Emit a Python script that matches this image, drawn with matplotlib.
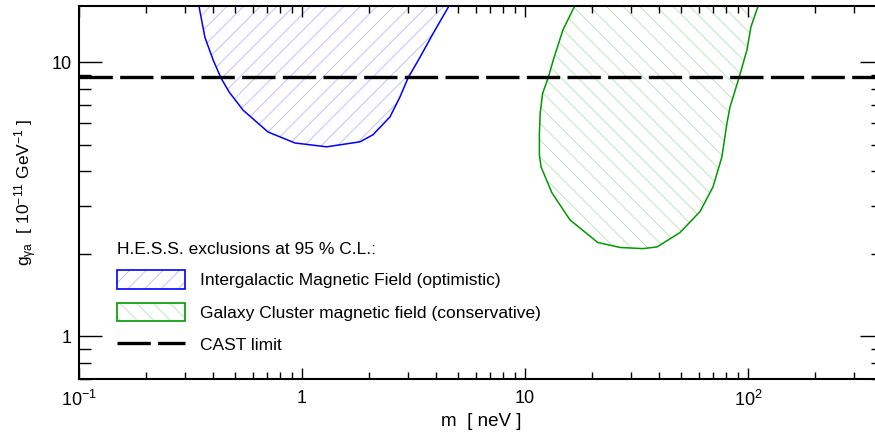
import numpy as np
import matplotlib
matplotlib.use("Agg")
import matplotlib.pyplot as plt
from matplotlib.patches import Patch
from matplotlib.lines import Line2D
from matplotlib.ticker import LogLocator, FixedLocator, FixedFormatter, NullFormatter

plt.rcParams['font.family'] = ['Liberation Sans', 'DejaVu Sans']
plt.rcParams['mathtext.default'] = 'regular'
plt.rcParams['hatch.linewidth'] = 0.6

# H.E.S.S. exclusion contours, m [neV] vs g [1e-11 GeV^-1]
igmf_m = [0.345, 0.367, 0.399, 0.433, 0.471, 0.544, 0.704, 0.930, 1.29, 1.82,
          2.08, 2.48, 2.75, 2.99, 3.38, 3.87, 4.56]
igmf_g = [16.0, 12.3, 10.2, 8.75, 7.78, 6.68, 5.56, 5.07, 4.91, 5.12,
          5.43, 6.31, 7.46, 8.75, 10.4, 12.7, 16.0]

gc_m = [16.7, 14.8, 13.4, 12.7, 12.0, 11.7, 11.6, 11.6, 11.8, 13.2, 15.9, 21.2,
        26.7, 33.8, 39.1, 49.5, 60.9, 69.7, 76.4, 80.5, 83.0, 91.1, 99, 103, 111]
gc_g = [16.0, 13.1, 10.2, 8.75, 7.7, 6.53, 5.52, 4.59, 4.15, 3.34, 2.66, 2.20,
        2.11, 2.09, 2.12, 2.39, 2.85, 3.51, 4.52, 6.0, 6.85, 8.75, 11.1, 13.4, 16.0]

cast_g = 8.8

xticks = [0.1, 1, 10, 100]
xticklabels = ['$10^{-1}$', '1', '10', '$10^{2}$']
yticks = [1, 10]
yticklabels = ['1', '10']

blue = '#0000ff'
blue_hatch = '#b8b8ff'
green = '#009900'
green_hatch = '#b4e2b4'

fig = plt.figure(figsize=(8.75, 4.4), dpi=100)
ax = fig.add_axes([79/875, 61/440, (883-79)/875, (379-6)/440])
ax.set_xscale('log')
ax.set_yscale('log')

ax.fill(igmf_m, igmf_g, facecolor='none', edgecolor=blue_hatch, hatch='//', lw=0)
ax.plot(igmf_m, igmf_g, color=blue, lw=1.1)
ax.fill(gc_m, gc_g, facecolor='none', edgecolor=green_hatch, hatch='\\\\', lw=0)
ax.plot(gc_m, gc_g, color=green, lw=1.1)
dash = (10, 2.2)
ax.axhline(cast_g, color='black', lw=2.4, dashes=dash)

ax.set_xlim(0.1, 403)
ax.set_ylim(0.70, 16.0)

ax.xaxis.set_major_locator(FixedLocator(xticks))
ax.xaxis.set_major_formatter(FixedFormatter(xticklabels))
ax.xaxis.set_minor_locator(LogLocator(base=10, subs=np.arange(2, 10)))
ax.xaxis.set_minor_formatter(NullFormatter())
ax.yaxis.set_major_locator(FixedLocator(yticks))
ax.yaxis.set_major_formatter(FixedFormatter(yticklabels))
ax.yaxis.set_minor_locator(LogLocator(base=10, subs=np.arange(2, 10)))
ax.yaxis.set_minor_formatter(NullFormatter())

ax.tick_params(which='both', direction='in', top=True, right=True, width=1.0, labelsize=13)
ax.tick_params(axis='x', which='major', length=8, pad=8)
ax.tick_params(axis='x', which='minor', length=5)
ax.tick_params(axis='y', which='major', length=16.5, pad=5)
ax.tick_params(axis='y', which='minor', length=8.6)
for s in ax.spines.values():
    s.set_linewidth(1.5)

ax.set_xlabel('m  [ neV ]', fontsize=13.5)
ax.set_ylabel('g$_{γa}$  [ 10$^{-11}$ GeV$^{-1}$ ]', fontsize=12.5)
ax.xaxis.set_label_coords(0.5, -0.09)
ax.yaxis.set_label_coords(-0.05, 0.5)

handles = [
    (Patch(facecolor='none', edgecolor=blue_hatch, hatch='//', lw=0),
     Patch(facecolor='none', edgecolor=blue, lw=1.2)),
    (Patch(facecolor='none', edgecolor=green_hatch, hatch='\\\\', lw=0),
     Patch(facecolor='none', edgecolor=green, lw=1.2)),
    Line2D([], [], color='black', lw=2.4, dashes=dash),
]
labels = ['Intergalactic Magnetic Field (optimistic)',
          'Galaxy Cluster magnetic field (conservative)',
          'CAST limit']
leg = ax.legend(handles, labels, title='H.E.S.S. exclusions at 95 % C.L.:',
                loc='upper left', bbox_to_anchor=(0.039, 0.387), frameon=False,
                fontsize=12.5, title_fontsize=12.5, alignment='left',
                handlelength=3.9, handleheight=1.28, labelspacing=0.79,
                handletextpad=0.86, borderpad=0.4, borderaxespad=0)

fig.savefig('out.png', dpi=100)
